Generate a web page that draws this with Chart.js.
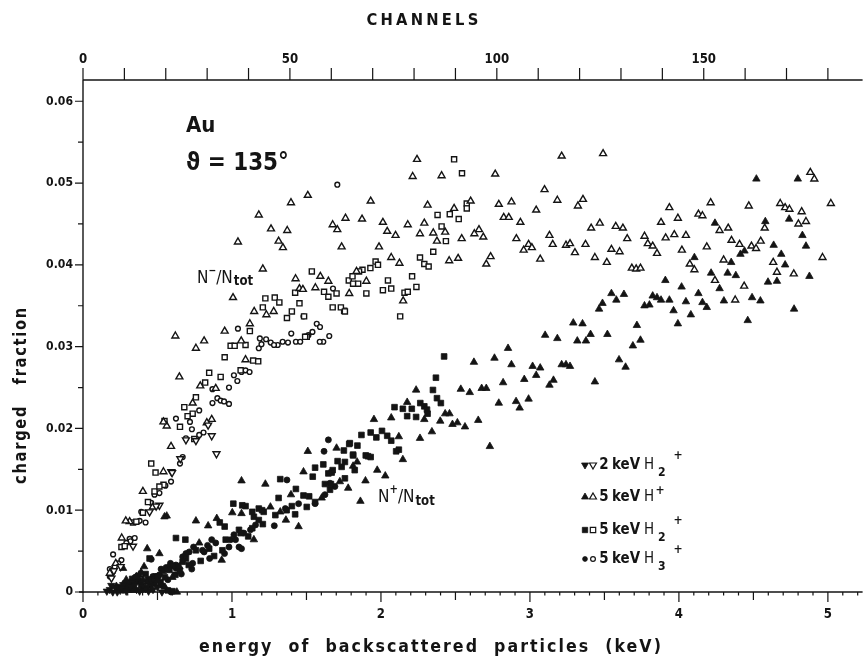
<!DOCTYPE html>
<html>
<head>
<meta charset="utf-8">
<script src="https://cdn.jsdelivr.net/npm/chart.js@4/dist/chart.umd.min.js"></script>
<style>
  html, body { margin: 0; padding: 0; background: #fff; }
  canvas { display: block; }
</style>
</head>
<body>
<canvas id="chart" width="868" height="658"></canvas>
<script>
// axis ranges (keV on the bottom, fraction on the left, channels on top)
const X_MAX = 5.233;
const Y_MAX = 0.0626;
const CH_PER_KEV = 36;

const xTickLabels = [0, 1, 2, 3, 4, 5];
const yTickLabels = [0, 0.01, 0.02, 0.03, 0.04, 0.05, 0.06];
const channelLabels = [0, 50, 100, 150];

// N-/Ntot, open symbols
const negH2_2keV = [[0.896,0.0169],[0.653,0.0163],[0.593,0.0147],[0.758,0.0185],[0.864,0.0191],[0.84,0.0204],[0.598,0.0146],[0.513,0.0106],[0.491,0.0105],[0.447,0.0098],[0.336,0.0056],[0.253,0.0031],[0.207,0.0026],[0.191,0.0017],[0.691,0.0186]];

const negH_5keV = [[0.62,0.0313],[0.758,0.0298],[0.813,0.0307],[0.951,0.0319],[1.007,0.036],[1.04,0.0428],[1.062,0.0307],[1.12,0.0328],[1.149,0.0343],[1.18,0.0461],[1.207,0.0395],[1.231,0.0339],[1.262,0.0444],[1.28,0.0343],[1.313,0.0429],[1.342,0.0421],[1.371,0.0442],[1.396,0.0476],[1.427,0.0383],[1.453,0.0371],[1.476,0.037],[1.509,0.0485],[1.56,0.0372],[1.593,0.0386],[1.647,0.038],[1.676,0.0449],[1.707,0.0443],[1.736,0.0422],[1.762,0.0457],[1.787,0.0365],[1.836,0.0392],
  [2.242,0.0529],[2.213,0.0508],[2.407,0.0509],[2.767,0.0511],[3.213,0.0533],[3.491,0.0536],[1.931,0.0478],[2.313,0.0473],[2.491,0.0469],[2.602,0.0478],[2.791,0.0474],[2.876,0.0477],[3.098,0.0492],[3.042,0.0467],[3.184,0.0479],[3.356,0.048],[3.322,0.0472],[1.873,0.0456],[2.013,0.0452],[2.042,0.0441],[2.098,0.0436],[2.18,0.0449],[2.291,0.0451],[2.262,0.0438],[2.351,0.0439],[2.431,0.044],[2.376,0.0429],[2.542,0.0432],[2.627,0.0438],[2.658,0.0443],[2.687,0.0434],[2.824,0.0458],[2.858,0.0458],[2.936,0.0452],[2.909,0.0432],[2.991,0.0425],[2.958,0.0418],[3.013,0.0421],[3.069,0.0407],[3.131,0.0436],[3.153,0.0425],[3.242,0.0424],[3.269,0.0426],[3.302,0.0415],[3.373,0.0425],[3.411,0.0445],[3.469,0.0451],[3.436,0.0409],[3.516,0.0403],[3.547,0.0419],[3.602,0.0416],[3.576,0.0447],[3.624,0.0445],[1.987,0.0422],[2.069,0.0409],[2.124,0.0402],[2.458,0.0405],[2.518,0.0408],[2.736,0.041],[2.707,0.0401],[1.902,0.038],[2.149,0.0356],
  [4.882,0.0513],[4.909,0.0505],[5.02,0.0475],[3.936,0.047],[4.213,0.0476],[4.469,0.0472],[4.68,0.0475],[4.713,0.047],[4.742,0.0468],[4.824,0.0465],[4.131,0.0462],[4.158,0.046],[3.993,0.0457],[3.88,0.0452],[4.331,0.0445],[4.273,0.0442],[4.576,0.0445],[4.802,0.045],[4.853,0.0453],[3.653,0.0432],[3.769,0.0435],[3.969,0.0437],[4.047,0.0436],[3.911,0.0433],[3.791,0.0426],[3.824,0.0423],[3.853,0.0414],[4.353,0.043],[4.407,0.0425],[4.487,0.0423],[4.518,0.042],[4.549,0.0429],[4.187,0.0422],[4.02,0.0418],[3.684,0.0396],[3.713,0.0395],[3.742,0.0396],[4.073,0.0401],[4.104,0.0394],[4.242,0.0381],[4.3,0.0406],[4.438,0.0374],[4.378,0.0357],[4.633,0.0403],[4.658,0.0391],[4.771,0.0389],[4.964,0.0409],
  [0.647,0.0263],[1.091,0.0284],[0.787,0.0252],[0.736,0.0231],[0.891,0.0249],[0.864,0.0211],[0.831,0.0207],[0.591,0.0178],[0.562,0.0203],[0.54,0.0208],[0.402,0.0123],[0.54,0.0147],[0.313,0.0086],[0.287,0.0087],[0.26,0.0066],[0.22,0.0035],[0.18,0.0023],[0.469,0.0104]];

const negH2_5keV = [[0.991,0.0301],[1.018,0.0301],[1.12,0.0319],[1.207,0.0348],[1.224,0.0359],[1.287,0.036],[1.318,0.0354],[1.369,0.0335],[1.402,0.0343],[1.424,0.0366],[1.453,0.0353],[1.484,0.0337],[1.536,0.0392],[1.618,0.0367],[1.647,0.0361],[1.676,0.0348],[1.753,0.0344],[1.784,0.0381],[1.809,0.0386],[1.813,0.0377],[1.502,0.0312],
  [2.491,0.0529],[2.544,0.0512],[2.576,0.0475],[2.576,0.0469],[2.38,0.0461],[2.462,0.0462],[2.522,0.0456],[2.407,0.0447],[2.436,0.0429],[2.351,0.0416],[2.262,0.0409],[2.291,0.0401],[2.32,0.0398],[1.964,0.0404],[1.98,0.04],[1.929,0.0396],[1.876,0.0394],[1.853,0.0392],[1.847,0.0377],[1.702,0.0365],[1.902,0.0365],[2.047,0.0381],[2.069,0.0371],[2.013,0.0369],[2.209,0.0386],[2.238,0.0373],[2.158,0.0366],[2.18,0.0367],[1.731,0.0348],[1.758,0.0343],[2.129,0.0337],
  [1.091,0.0302],[1.142,0.0283],[1.176,0.0282],[0.847,0.0268],[0.82,0.0256],[0.951,0.0287],[0.924,0.0263],[0.758,0.0238],[0.68,0.0226],[0.736,0.0218],[0.702,0.0215],[0.651,0.0202],[0.547,0.0209],[0.747,0.0187],[0.458,0.0157],[0.487,0.0146],[0.48,0.0123],[0.402,0.0097],[0.336,0.0085],[0.258,0.0055],[0.28,0.0056],[1.491,0.0312],[1.058,0.0271],[0.54,0.0131],[0.513,0.0129],[0.436,0.011],[0.358,0.0086]];

const negH3_5keV = [[1.04,0.0322],[1.187,0.031],[1.229,0.0309],[1.26,0.0305],[1.307,0.0302],[1.34,0.0306],[1.398,0.0316],[1.429,0.0306],[1.458,0.0306],[1.54,0.0318],[1.569,0.0328],[1.591,0.0324],[1.613,0.0306],[1.653,0.0313],[1.707,0.0498],[1.48,0.0337],[1.678,0.0371],
  [1.18,0.0298],[1.198,0.0303],[1.282,0.0302],[1.376,0.0305],[1.513,0.0314],[1.589,0.0306],[1.013,0.0265],[1.036,0.0258],[0.98,0.025],[1.064,0.0269],[1.091,0.0271],[1.118,0.0269],[0.869,0.0248],[0.869,0.0231],[0.902,0.0237],[0.924,0.0234],[0.947,0.0233],[0.98,0.023],[0.624,0.0212],[0.731,0.0199],[0.78,0.0222],[0.809,0.0195],[0.78,0.0192],[0.718,0.0208],[0.691,0.0188],[0.651,0.0157],[0.669,0.0165],[0.591,0.0135],[0.553,0.013],[0.513,0.0121],[0.48,0.0119],[0.458,0.0109],[0.391,0.0098],[0.42,0.0085],[0.38,0.0087],[0.313,0.0065],[0.347,0.0066],[0.318,0.0062],[0.291,0.006],[0.258,0.0039],[0.202,0.0046],[0.236,0.0035],[0.213,0.0031],[0.18,0.0028],[0.18,0.0019],[0.202,0.0025]];

// N+/Ntot, filled symbols
const posH2_2keV = [[0.18,0.0003],[0.2,0.0],[0.22,0.0006],[0.25,0.0002],[0.27,0.0009],[0.3,0.0004],[0.33,0.0012],[0.36,0.0003],[0.4,0.0007],[0.44,0.0001],
  [0.16,0.0001],[0.19,0.0008],[0.23,0.0],[0.26,0.0005],[0.29,0.0001],[0.32,0.0007],[0.35,0.0009],[0.38,0.0001],[0.42,0.0004],[0.47,0.0003],[0.5,0.0006],[0.53,0.0]];

const posH_5keV = [[4.52,0.0505],[4.798,0.0505],[4.58,0.0453],[4.74,0.0456],[4.242,0.0451],[4.829,0.0436],[4.853,0.0423],[4.636,0.0424],[4.687,0.0413],[4.713,0.04],[4.876,0.0386],[4.598,0.0379],[4.658,0.038],[4.773,0.0346],[4.44,0.0417],[4.413,0.0413],[4.351,0.0403],[4.327,0.039],[4.382,0.0387],[4.104,0.0409],[4.216,0.039],[4.273,0.0371],[4.302,0.0356],[4.491,0.036],[4.547,0.0356],[4.462,0.0332],[3.909,0.0381],[4.018,0.0373],[4.131,0.0365],[4.158,0.0354],[4.187,0.0348],[4.047,0.0355],[4.08,0.0339],[3.964,0.0344],[3.993,0.0328],[3.936,0.0357],[3.824,0.0362],[3.853,0.036],[3.88,0.0357],[3.769,0.035],[3.802,0.0351],[3.547,0.0365],[3.631,0.0364],[3.58,0.0357],[3.487,0.0353],[3.464,0.0346],[3.718,0.0326],[3.52,0.0315],[3.742,0.0308],[3.691,0.0301],
  [3.291,0.0329],[3.353,0.0328],[3.407,0.0315],[3.102,0.0314],[3.184,0.031],[3.318,0.0307],[3.376,0.0307],[2.853,0.0298],
  [3.598,0.0284],[3.642,0.0275],[3.436,0.0257],[2.762,0.0286],[2.624,0.0281],[2.876,0.0278],[3.018,0.0276],[3.069,0.0274],[3.042,0.0265],[2.962,0.026],[2.82,0.0256],[3.213,0.0278],[3.242,0.0278],[3.269,0.0276],[3.158,0.0259],[3.131,0.0253],[2.536,0.0248],[2.596,0.0244],[2.676,0.0249],[2.707,0.0249],[2.791,0.0231],[2.907,0.0233],[2.931,0.0225],[2.991,0.0236],[2.653,0.021],[2.564,0.0202],[2.513,0.0207],[2.48,0.0205],[2.398,0.0209],[2.431,0.0218],[2.46,0.0218],[2.342,0.0196],[2.262,0.0188],[2.731,0.0178],[2.236,0.0247],[2.176,0.0232],[2.291,0.0211],[2.069,0.0213],[1.953,0.0211],[2.12,0.019],[2.147,0.0162],[1.975,0.0149],[2.029,0.0142],[1.896,0.0136],[1.862,0.0111],[1.78,0.0127],[1.702,0.0176],[1.813,0.0154],[1.84,0.0159],
  [1.509,0.0172],[1.064,0.0136],[1.224,0.0132],[1.48,0.0147],[1.447,0.008],[0.758,0.0087],[0.84,0.0081],[1.064,0.0096],[1.147,0.0064],[0.898,0.009],[1.258,0.0104],[1.396,0.0119],[1.362,0.0088],[0.931,0.0039],[0.562,0.0093],[0.547,0.0092],[0.431,0.0053],[0.513,0.0047],[1.002,0.0097],[0.376,0.0021],[0.358,0.0019],[0.269,0.0029],
  [1.602,0.0115],[1.724,0.0135],[1.324,0.0098],[0.78,0.006],[0.647,0.0031],[0.558,0.0027],[0.402,0.0015],[0.313,0.0011],[0.224,0.0007],[0.336,0.0002],[0.48,0.0009],[0.536,0.0025],
  [0.29,0.0015],[0.34,0.0007],[0.39,0.0024],[0.43,0.0012],[0.46,0.0003],[0.5,0.0014],[0.55,0.0006],[0.6,0.0018],[0.63,0.0],[0.41,0.0031],[0.28,0.0004]];

const posH2_5keV = [[2.424,0.0288],[2.369,0.0262],[2.349,0.0247],[2.376,0.0237],[2.402,0.0231],[2.264,0.0231],[2.291,0.0227],[2.309,0.0223],[2.313,0.0218],[2.091,0.0226],[2.147,0.0224],[2.207,0.0224],[2.176,0.0215],[2.236,0.0214],[1.869,0.0192],[1.931,0.0195],[1.969,0.0189],[2.007,0.0197],[2.042,0.0191],[2.069,0.0185],[2.12,0.0174],[2.102,0.0172],[1.791,0.0182],[1.842,0.0179],[1.751,0.0173],[1.813,0.0167],[1.898,0.0167],[1.913,0.0166],[1.931,0.0165],[1.736,0.0153],[1.709,0.016],[1.669,0.0146],[1.664,0.0132],
  [1.009,0.0108],[1.091,0.0105],[1.147,0.0092],[0.624,0.0066],[0.687,0.0064],[0.447,0.0041],[0.918,0.0085],[0.951,0.008],[1.047,0.0076],[1.109,0.0068],[1.207,0.0083],[1.324,0.0138],[1.313,0.0115],[1.429,0.0126],[1.48,0.0118],[1.518,0.0117],[1.542,0.0141],[1.558,0.0152],[1.613,0.0156],[1.676,0.0149],[1.647,0.0145],[1.624,0.0132],[1.787,0.0181],[1.813,0.0168],[1.758,0.0159],[1.18,0.0102],[1.213,0.0098],[1.367,0.01],[1.424,0.0095],[1.502,0.0104],[1.558,0.011],
  [1.069,0.0106],[1.136,0.0098],[1.202,0.01],[1.18,0.0088],[1.136,0.0078],[1.058,0.0072],[0.958,0.0064],[0.936,0.0051],[0.847,0.0053],[0.758,0.0051],[0.691,0.0041],[0.669,0.0037],[0.602,0.0032],[0.58,0.0027],[0.491,0.0019],[0.436,0.0015],[0.347,0.0013],[0.569,0.0002],[0.6,0.0001],
  [1.658,0.0125],[1.758,0.0139],[1.824,0.0149],[1.291,0.0094],[1.402,0.0105],[0.302,0.0009],[0.369,0.0019],[0.447,0.0015],[0.502,0.0019],
  [0.25,0.0006],[0.31,0.0003],[0.33,0.0016],[0.39,0.0009],[0.42,0.0022],[0.45,0.0008],[0.52,0.0012],[0.55,0.0018],[0.62,0.0021],[0.65,0.0026],[0.71,0.0033],[0.79,0.0038],[0.88,0.0044]];

const posH3_5keV = [[1.647,0.0186],[1.618,0.0172],[1.369,0.0137],[1.284,0.0081],[1.013,0.007],[0.991,0.0064],[1.047,0.0055],[1.064,0.0053],[0.864,0.0064],[0.836,0.0057],[0.802,0.0051],[0.742,0.0055],[0.713,0.0049],[0.691,0.0047],[0.669,0.0043],[0.587,0.0035],[0.558,0.003],[0.524,0.0028],[0.458,0.004],[1.158,0.0082],[1.124,0.0076],[1.08,0.0072],[1.658,0.0133],[1.691,0.0129],[1.624,0.0119],[1.558,0.0108],[1.447,0.0108],[1.358,0.0102],[0.98,0.0055],[1.024,0.0064],[0.891,0.006],[0.813,0.0049],[0.736,0.0035],[0.624,0.0029],[0.513,0.0021],[0.469,0.0019],[0.38,0.0013],[0.28,0.0011],[0.424,0.0005],[0.591,0.0],[0.58,0.0031],[0.624,0.0033],[0.269,0.0002],
  [0.23,0.0004],[0.35,0.0018],[0.4,0.0003],[0.48,0.0012],[0.53,0.0008],[0.57,0.0015],[0.66,0.0022],[0.73,0.0028],[0.85,0.0041],[0.95,0.0047]];

const INK = '#141414';
const FONT = '"DejaVu Sans", sans-serif';

function pts(list) {
  return list.map(p => ({ x: p[0], y: p[1] }));
}

function series(label, list, style, filled, radius, rotation) {
  return {
    label,
    data: pts(list),
    pointStyle: style,
    pointRadius: radius,
    pointRotation: rotation || 0,
    pointBackgroundColor: filled ? INK : '#fff',
    pointBorderColor: INK,
    pointBorderWidth: filled ? 0.8 : 1.4,
    showLine: false,
    clip: false
  };
}

// condensed text helper
function text(ctx, s, x, y, size, opts = {}) {
  const sq = opts.squeeze || 0.84;
  ctx.save();
  ctx.font = `${opts.weight || 'bold'} ${size}px ${FONT}`;
  ctx.fillStyle = INK;
  ctx.textAlign = opts.align || 'left';
  ctx.textBaseline = opts.baseline || 'middle';
  if (opts.spacing) ctx.letterSpacing = opts.spacing + 'px';
  ctx.translate(x, y);
  if (opts.rotate) ctx.rotate(opts.rotate);
  ctx.scale(sq, 1);
  ctx.fillText(s, 0, 0);
  const w = ctx.measureText(s).width * sq;
  ctx.restore();
  return w;
}

function marker(ctx, kind, filled, x, y, r) {
  ctx.save();
  ctx.fillStyle = filled ? INK : '#fff';
  ctx.strokeStyle = INK;
  ctx.lineWidth = filled ? 0.8 : 1.2;
  ctx.beginPath();
  if (kind === 'up' || kind === 'down') {
    const s = kind === 'up' ? 1 : -1;
    ctx.moveTo(x, y - s * r);
    ctx.lineTo(x + r * 0.866, y + s * r * 0.5);
    ctx.lineTo(x - r * 0.866, y + s * r * 0.5);
    ctx.closePath();
  } else if (kind === 'rect') {
    const h = r * Math.SQRT1_2;
    ctx.rect(x - h, y - h, 2 * h, 2 * h);
  } else {
    ctx.arc(x, y, r, 0, Math.PI * 2);
  }
  ctx.fill();
  ctx.stroke();
  ctx.restore();
}

// axes, ticks and all lettering
const frame = {
  id: 'frame',
  afterDraw(chart) {
    const { ctx, chartArea: a, scales } = chart;
    const sx = scales.x, sy = scales.y, sc = scales.x2;
    ctx.save();
    ctx.strokeStyle = INK;
    ctx.lineWidth = 1.4;
    ctx.beginPath();
    ctx.moveTo(a.left, a.top); ctx.lineTo(a.right, a.top);
    ctx.moveTo(a.left, a.top); ctx.lineTo(a.left, a.bottom + 1);
    ctx.moveTo(a.left - 4, a.bottom); ctx.lineTo(a.right, a.bottom);
    ctx.stroke();

    ctx.lineWidth = 1.2;
    ctx.beginPath();
    // bottom: every 0.1 keV, longer at halves and whole keV
    for (let i = 0; i <= Math.floor(X_MAX * 10); i++) {
      const px = sx.getPixelForValue(i / 10);
      const len = i % 10 === 0 ? 10 : (i % 5 === 0 ? 8 : 3.5);
      ctx.moveTo(px, a.bottom); ctx.lineTo(px, a.bottom + len);
    }
    // top: every 10 channels
    for (let c = 0; c <= X_MAX * CH_PER_KEV; c += 10) {
      const px = sc.getPixelForValue(c);
      ctx.moveTo(px, a.top); ctx.lineTo(px, a.top - 12);
    }
    // left: every 0.005
    for (let i = 0; i <= 12; i++) {
      const py = sy.getPixelForValue(i * 0.005);
      const len = i % 2 === 0 ? 8 : 5;
      ctx.moveTo(a.left, py); ctx.lineTo(a.left - len, py);
    }
    ctx.stroke();
    ctx.restore();

    xTickLabels.forEach(v => text(ctx, String(v), sx.getPixelForValue(v), a.bottom + 22, 14, { align: 'center' }));
    channelLabels.forEach(v => text(ctx, String(v), sc.getPixelForValue(v), a.top - 21, 14, { align: 'center' }));
    yTickLabels.forEach(v => text(ctx, v === 0 ? '0' : v.toFixed(2), a.left - 10, sy.getPixelForValue(v), 13, { align: 'right' }));

    text(ctx, 'CHANNELS', 424, 21, 16, { align: 'center', spacing: 3.5, squeeze: 0.92 });
    text(ctx, 'energy  of  backscattered  particles  (keV)', 431, 647, 18, { align: 'center', spacing: 2.3, squeeze: 0.88 });
    text(ctx, 'charged   fraction', 22, 395, 17, { align: 'center', rotate: -Math.PI / 2, spacing: 2, squeeze: 0.86 });

    text(ctx, 'Au', 186, 126, 22, { squeeze: 0.9 });
    text(ctx, 'ϑ = 135°', 186, 163, 25, { squeeze: 0.86 });

    // N-/Ntot label
    let x = 197;
    x += text(ctx, 'N', x, 283, 17, { baseline: 'alphabetic', weight: 'normal', squeeze: 0.9 });
    x += text(ctx, '−', x, 274, 11, { baseline: 'alphabetic' });
    x += text(ctx, '/N', x, 283, 17, { baseline: 'alphabetic', weight: 'normal', squeeze: 0.9 });
    text(ctx, 'tot', x + 1, 285, 14, { baseline: 'alphabetic' });

    // N+/Ntot label
    x = 378;
    x += text(ctx, 'N', x, 502, 17, { baseline: 'alphabetic', weight: 'normal', squeeze: 0.9 });
    x += text(ctx, '+', x, 493, 12, { baseline: 'alphabetic' });
    x += text(ctx, '/N', x, 502, 17, { baseline: 'alphabetic', weight: 'normal', squeeze: 0.9 });
    text(ctx, 'tot', x + 1, 505, 14, { baseline: 'alphabetic' });

    // key
    const rows = [
      { y: 465, a: 'down', e: '2', sub: '2' },
      { y: 497, a: 'up', e: '5', sub: '' },
      { y: 530, a: 'rect', e: '5', sub: '2' },
      { y: 559, a: 'circle', e: '5', sub: '3' }
    ];
    rows.forEach(r => {
      const rad = r.a === 'circle' ? 2.4 : (r.a === 'rect' ? 3.8 : 4);
      marker(ctx, r.a, true, 585, r.y, rad);
      marker(ctx, r.a, false, 593, r.y, rad);
      text(ctx, r.e, 604, r.y, 16, { align: 'center' });
      text(ctx, 'keV', 612, r.y, 16);
      text(ctx, 'H', 644, r.y, 16, { weight: 'normal' });
      if (r.sub) {
        text(ctx, r.sub, 658, r.y + 8, 13);
        text(ctx, '+', 678, r.y - 9, 13, { align: 'center' });
      } else {
        text(ctx, '+', 660, r.y - 6, 13, { align: 'center' });
      }
    });
  }
};

new Chart(document.getElementById('chart'), {
  type: 'scatter',
  data: {
    datasets: [
      series('2 keV H2+ N-', negH2_2keV, 'triangle', false, 4, 180),
      series('5 keV H+ N-', negH_5keV, 'triangle', false, 4),
      series('5 keV H2+ N-', negH2_5keV, 'rect', false, 3.6),
      series('5 keV H3+ N-', negH3_5keV, 'circle', false, 2.4),
      series('2 keV H2+ N+', posH2_2keV, 'triangle', true, 4.2, 180),
      series('5 keV H+ N+', posH_5keV, 'triangle', true, 4.3),
      series('5 keV H2+ N+', posH2_5keV, 'rect', true, 4),
      series('5 keV H3+ N+', posH3_5keV, 'circle', true, 3)
    ]
  },
  options: {
    responsive: false,
    animation: false,
    layout: { padding: { left: 83, right: 0, top: 80, bottom: 66 } },
    plugins: { legend: { display: false }, tooltip: { enabled: false } },
    scales: {
      x: { type: 'linear', min: 0, max: X_MAX, display: false },
      y: { type: 'linear', min: 0, max: Y_MAX, display: false },
      x2: { type: 'linear', axis: 'x', position: 'top', min: 0, max: X_MAX * CH_PER_KEV, display: false }
    }
  },
  plugins: [frame]
});
</script>
</body>
</html>
